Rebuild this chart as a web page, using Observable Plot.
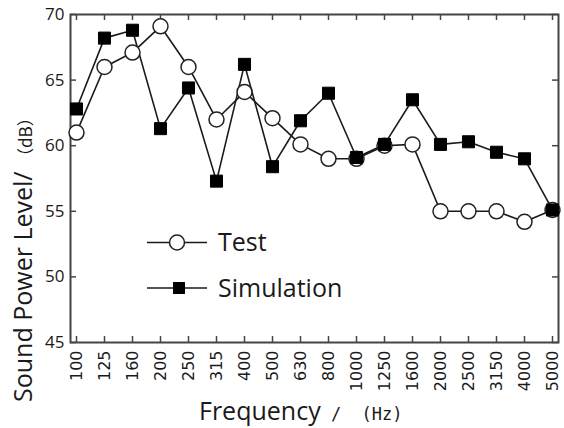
<!DOCTYPE html>
<html>
<head>
<meta charset="utf-8">
<script src="https://cdn.jsdelivr.net/npm/d3@7"></script>
<script src="https://cdn.jsdelivr.net/npm/@observablehq/plot@0.6"></script>
<style>
  body { margin: 0; background: #fff; }
  #chart { width: 564px; height: 428px; }
  #chart svg { display: block; }
</style>
</head>
<body>
<div id="chart"></div>
<script>
// ---- data ----
const frequencies = ["100","125","160","200","250","315","400","500","630","800","1000","1250","1600","2000","2500","3150","4000","5000"];
const testValues = [61.0, 66.0, 67.1, 69.1, 66.0, 62.0, 64.1, 62.1, 60.1, 59.0, 59.0, 60.0, 60.1, 55.0, 55.0, 55.0, 54.2, 55.1];
const simulationValues = [62.8, 68.2, 68.8, 61.3, 64.4, 57.3, 66.2, 58.4, 61.9, 64.0, 59.1, 60.1, 63.5, 60.1, 60.3, 59.5, 59.0, 55.1];
const yTicks = [45, 50, 55, 60, 65, 70];
const seriesNames = ["Test", "Simulation"];
const xTitle = "Frequency";
const xUnit = " /  (Hz)";
const yTitle = "Sound Power Level/ ";
const yUnit = "（dB）";

// ---- layout ----
const W = 564, H = 428;
const mL = 70, mT = 14, mR = 6, mB = 86;
const innerW = W - mL - mR, innerH = H - mT - mB;
const ink = "#1a1a1a", frameColor = "#444";
const font = "'Open Sans', 'Liberation Sans', sans-serif";

const test = frequencies.map((f, i) => ({f, v: testValues[i]}));
const sim = frequencies.map((f, i) => ({f, v: simulationValues[i]}));

const plot = Plot.plot({
  width: W, height: H,
  marginLeft: mL, marginTop: mT, marginRight: mR, marginBottom: mB,
  style: {fontFamily: font, color: ink, background: "white", overflow: "visible"},
  x: {type: "point", domain: frequencies, padding: 0},
  y: {domain: [45, 70]},
  marks: [
    Plot.axisY(yTicks, {anchor: "left", tickSize: 0, tickPadding: 6, fontSize: 17, label: null}),
    Plot.axisX(frequencies, {anchor: "bottom", tickSize: 0, tickPadding: 8, tickRotate: -90, fontSize: 16, fontFamily: "'DejaVu Sans', sans-serif", label: null}),
    // inward ticks on all four sides
    Plot.tickX(frequencies, {x: d => d, insetTop: innerH - 6, stroke: frameColor, strokeWidth: 1.5}),
    Plot.tickX(frequencies, {x: d => d, insetBottom: innerH - 6, stroke: frameColor, strokeWidth: 1.5}),
    Plot.tickY(yTicks, {y: d => d, insetRight: innerW - 6, stroke: frameColor, strokeWidth: 1.5}),
    Plot.tickY(yTicks, {y: d => d, insetLeft: innerW - 6, stroke: frameColor, strokeWidth: 1.5}),
    Plot.frame({stroke: frameColor, strokeWidth: 2}),
    Plot.line(test, {x: "f", y: "v", stroke: ink, strokeWidth: 1.6}),
    Plot.line(sim, {x: "f", y: "v", stroke: ink, strokeWidth: 1.6}),
    Plot.dot(test, {x: "f", y: "v", r: 7.5, fill: "white", stroke: "#222", strokeWidth: 1.5}),
    Plot.dot(sim, {x: "f", y: "v", symbol: "square", r: 6.8, fill: "black", stroke: "black", strokeWidth: 1})
  ]
});
document.getElementById("chart").append(plot);

const svg = d3.select(plot);

// y title
const yt = svg.append("text")
  .attr("transform", "translate(32,402) rotate(-90)")
  .attr("text-anchor", "start")
  .attr("fill", ink)
  .attr("font-family", font)
  .attr("font-size", 25);
yt.append("tspan").text(yTitle);
yt.append("tspan").attr("font-family", "'Noto Sans CJK SC', serif").attr("font-size", 17).text(yUnit);

// x title
const xt = svg.append("text")
  .attr("x", 199).attr("y", 420)
  .attr("text-anchor", "start")
  .attr("fill", ink)
  .attr("font-family", font)
  .attr("font-size", 25);
xt.append("tspan").text(xTitle);
xt.append("tspan").attr("font-family", "'DejaVu Sans Mono', monospace").attr("font-size", 17)
  .style("white-space", "pre").text(xUnit);

// legend
const lg = svg.append("g").attr("text-anchor", "start");
const rows = [{name: seriesNames[0], y: 242.5, kind: "circle"}, {name: seriesNames[1], y: 288, kind: "square"}];
for (const r of rows) {
  lg.append("line").attr("x1", 147).attr("x2", 207).attr("y1", r.y).attr("y2", r.y)
    .attr("stroke", ink).attr("stroke-width", 1.6);
  if (r.kind === "circle") {
    lg.append("circle").attr("cx", 177).attr("cy", r.y).attr("r", 7.5)
      .attr("fill", "white").attr("stroke", "#222").attr("stroke-width", 1.5);
  } else {
    lg.append("rect").attr("x", 179 - 6).attr("y", r.y - 6).attr("width", 12).attr("height", 12)
      .attr("fill", "black");
  }
  lg.append("text").attr("x", 218).attr("y", r.y).attr("dy", "0.35em")
    .attr("text-anchor", "start")
    .attr("fill", ink).attr("font-family", font).attr("font-size", 25).text(r.name);
}
</script>
</body>
</html>
